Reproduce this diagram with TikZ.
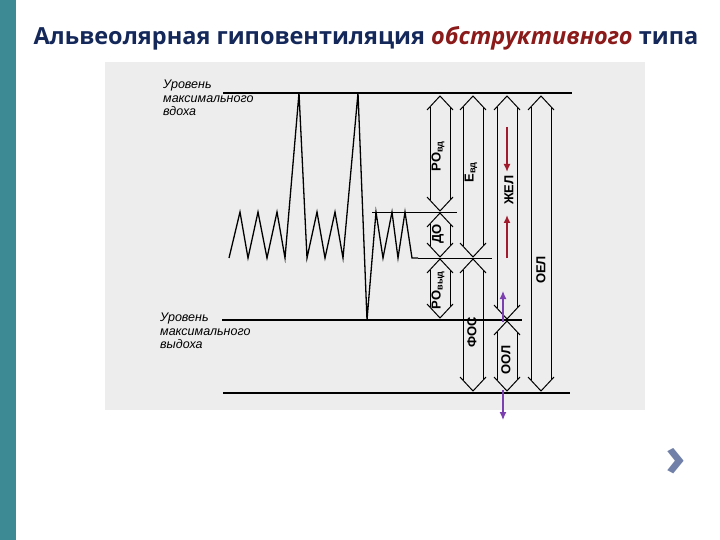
\documentclass[tikz,border=0pt]{standalone}
\usepackage{fontspec}
\setmainfont{Open Sans}
\newfontfamily\lblfont{Liberation Sans}
\usetikzlibrary{arrows.meta}
\definecolor{navy}{HTML}{14285A}
\definecolor{darkred}{HTML}{8B1A1A}
\definecolor{teal1}{HTML}{3E8A94}
\definecolor{scan}{HTML}{EDEDED}
\definecolor{redar}{HTML}{A01C2C}
\definecolor{purp}{HTML}{7B3FB0}
\definecolor{chevc}{HTML}{7080A8}
\tikzset{
 lvl/.style={line width=1.2pt},
 trace/.style={line width=1.3pt, line join=miter},
 hl/.style={line width=1pt},
 vlab/.style={rotate=90, font=\lblfont\bfseries\fontsize{13}{13}\selectfont, inner sep=1pt},
 side/.style={font=\lblfont\itshape\fontsize{12.5}{13.5}\selectfont, align=left, anchor=north west, inner sep=0pt},
 col/.style={-{Latex[length=8pt,width=7pt]}, line width=1.8pt}
}
% hollow double arrow: x, ytop, ybottom
\newcommand\holarr[3]{%
 \draw[hl] (#1-10,#2+11) -- (#1-10,#3-11);
 \draw[hl] (#1+10,#2+11) -- (#1+10,#3-11);
 \draw[hl] (#1-13,#2+14) -- (#1,#2) -- (#1+13,#2+14);
 \draw[hl] (#1-13,#3-14) -- (#1,#3) -- (#1+13,#3-14);
}
\begin{document}
\begin{tikzpicture}[x=1pt,y=-1pt]
\useasboundingbox (0,0) rectangle (720,540);
\fill[white] (0,0) rectangle (720,540);
\fill[teal1] (0,0) rectangle (16,540);
\fill[scan] (105,62) rectangle (645,410);
\node[anchor=west, text=navy, font=\bfseries\fontsize{23.5}{24}\selectfont] (title) at (30,38)
 {Альвеолярная гиповентиляция \textcolor{darkred}{\itshape обструктивного} типа};
\node[text=chevc, font=\fontsize{56}{56}\selectfont\bfseries] (chev) at (676,462) {›};
% levels
\coordinate (t1) at (223,93); \coordinate (t2) at (572,93);
\coordinate (m1) at (222,320); \coordinate (m2) at (522,320);
\coordinate (b1) at (223,393); \coordinate (b2) at (570,393);
\draw[lvl] (t1) -- (t2);
\draw[lvl] (m1) -- (m2);
\draw[lvl] (b1) -- (b2);
\coordinate (h1) at (372,212); \coordinate (h2) at (457,212);
\coordinate (g1) at (418,258); \coordinate (g2) at (492,258);
\draw[line width=0.9pt] (h1) -- (h2);
\draw[line width=0.9pt] (g1) -- (g2);
% trace
\draw[trace] (229,258) -- (240,212) -- (248,258) -- (258,212) -- (267,258) -- (277,212) -- (285,258)
 -- (299,93) -- (307,258) -- (317,212) -- (325,258) -- (335,212) -- (343,258) -- (358,93)
 -- (367,320) -- (376,212) -- (383,258) -- (392,212) -- (398,258) -- (405,212) -- (412,258) -- (418,258);
% labels
\node[side] (vd) at (163,80) {Уровень\\максимального\\вдоха};
\node[side] (vy) at (160,313) {Уровень\\максимального\\выдоха};
% hollow arrows
\holarr{440}{96}{211}
\holarr{440}{213}{257}
\holarr{440}{259}{318}
\holarr{473}{96}{257}
\holarr{473}{259}{391}
\holarr{507}{96}{319}
\holarr{507}{321}{391}
\holarr{541}{96}{391}
% vertical labels
\node[vlab] (l1) at (438,156) {РО\textsubscript{вд}};
\node[vlab] (l2) at (438,234) {ДО};
\node[vlab] (l3) at (438,290) {РО\textsubscript{выд}};
\node[vlab] (l4) at (471,172) {Е\textsubscript{вд}};
\node[vlab] (l5) at (472,332) {ФОС};
\node[vlab] (l6) at (509,190) {ЖЕЛ};
\node[vlab] (l7) at (506,360) {ООЛ};
\node[vlab] (l8) at (541,270) {ОЕЛ};
% colored arrows
\coordinate (r1s) at (507,127); \coordinate (r1e) at (507,172);
\coordinate (r2s) at (507,258); \coordinate (r2e) at (507,215);
\draw[col, redar] (r1s) -- (r1e);
\draw[col, redar] (r2s) -- (r2e);
\coordinate (p1s) at (503,322); \coordinate (p1e) at (503,291);
\coordinate (p2s) at (503,390); \coordinate (p2e) at (503,420);
\draw[col, purp, line width=1.3pt] (p1s) -- (p1e);
\draw[col, purp, line width=1.3pt] (p2s) -- (p2e);
\end{tikzpicture}
\end{document}
